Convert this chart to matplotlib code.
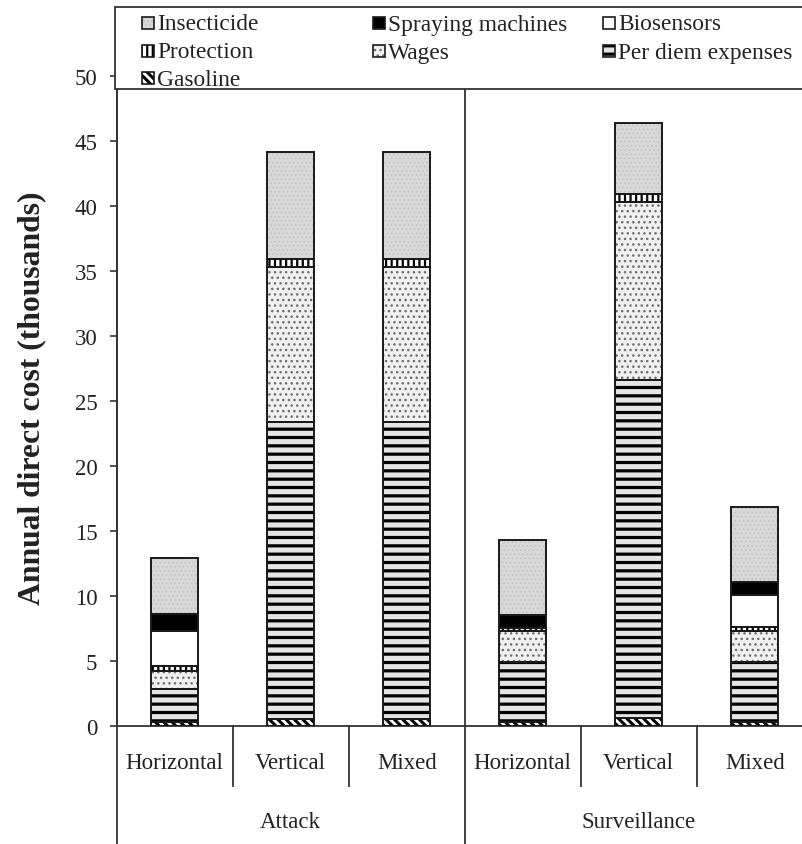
import matplotlib
matplotlib.use("Agg")
import matplotlib.pyplot as plt
from matplotlib.patches import Rectangle
import numpy as np

plt.rcParams["font.family"] = ["Liberation Serif", "DejaVu Serif"]

# --- data (thousands), one value per bar, bars ordered left to right ---
strategies = ["Horizontal", "Vertical", "Mixed", "Horizontal", "Vertical", "Mixed"]
groups = ["Attack", "Surveillance"]

gasoline = [0.28, 0.55, 0.55, 0.26, 0.60, 0.26]
per_diem = [2.54, 22.80, 22.80, 4.66, 26.00, 4.66]
wages = [1.36, 11.90, 11.90, 2.34, 13.66, 2.34]
protection = [0.39, 0.65, 0.65, 0.23, 0.64, 0.31]
biosensors = [2.74, 0.00, 0.00, 0.00, 0.00, 2.48]
spraying = [1.28, 0.00, 0.00, 1.03, 0.00, 1.03]
insecticide = [4.29, 8.20, 8.20, 5.76, 5.46, 5.77]

# stacking order bottom -> top, with fill style (face, hatch, hatch colour, hatch width)
components = [
    ("Gasoline", gasoline, "white", "\\\\\\\\", "black", 2.2),
    ("Per diem expenses", per_diem, "#e4e4e4", "--", "black", 2.3),
    ("Wages", wages, "#f0f0f0", "...", "#6e6e6e", 1.0),
    ("Protection", protection, "white", "|||", "black", 1.6),
    ("Biosensors", biosensors, "white", "", "white", 1.0),
    ("Spraying machines", spraying, "black", "", "black", 1.0),
    ("Insecticide", insecticide, "#d8d8d8", "....", "#c0c0c0", 0.6),
]
legend_order = ["Insecticide", "Spraying machines", "Biosensors",
                "Protection", "Wages", "Per diem expenses", "Gasoline"]

W, H = 802, 845
fig = plt.figure(figsize=(W / 100, H / 100), dpi=100)

# axes placement in pixels: y=0 at 726.7, y=50 at 76.7, category width 116 px
ax_left, ax_bottom, ax_top, cat_w = 116.7, 726.7, 76.7, 116.0
ax = fig.add_axes([ax_left / W, (H - ax_bottom) / H,
                   6 * cat_w / W, (ax_bottom - ax_top) / H])

x = np.arange(len(strategies)) + 0.5
bar_w = 0.405


def styled(patch, hatch_lw):
    if hasattr(patch, "set_hatch_linewidth"):
        patch.set_hatch_linewidth(hatch_lw)


bottom = np.zeros(len(strategies))
for name, vals, face, hatch, hcol, hlw in components:
    vals = np.asarray(vals)
    bars = ax.bar(x, vals, bar_w, bottom=bottom, color=face, hatch=hatch,
                  edgecolor=hcol, linewidth=0, zorder=2)
    for b in bars:
        styled(b, hlw)
    ax.bar(x, vals, bar_w, bottom=bottom, fill=False, edgecolor="#1a1a1a",
           linewidth=1.4, zorder=3)
    bottom += vals

ax.set_xlim(0, 6)
ax.set_ylim(0, 50)
ax.set_yticks(np.arange(0, 51, 5))
ax.set_xticks([])
for s in ["top", "right"]:
    ax.spines[s].set_visible(False)
for s in ["left", "bottom"]:
    ax.spines[s].set_color("#333333")
    ax.spines[s].set_linewidth(1.3)
ax.tick_params(axis="y", direction="out", length=5, width=1.2, color="#333333",
               labelsize=16.5, pad=9, labelcolor="#222222")

# category separators and labels below the axis
tr = ax.get_xaxis_transform()
for xs in [1, 2, 4, 5]:
    ax.plot([xs, xs], [0, -0.093], transform=tr, color="#333333", lw=1.3,
            clip_on=False)
for xs in [0, 3, 6]:
    ax.plot([xs, xs], [1, -0.25], transform=tr, color="#333333", lw=1.3,
            clip_on=False)
for xi, lab in zip(x, strategies):
    ax.text(xi, -0.056, lab, transform=tr, ha="center", va="center",
            fontsize=16.5, color="#222222")
for gi, g in enumerate(groups):
    ax.text(1.5 + 3 * gi, -0.147, g, transform=tr, ha="center", va="center",
            fontsize=16.5, color="#222222")

fig.text(32 / W, 1 - 398 / H, "Annual direct cost (thousands)", rotation=90,
         ha="center", va="center", fontsize=22.8, fontweight="bold",
         color="#222222")

# legend box drawn on top of the axes
fig.add_artist(Rectangle((115 / W, 1 - 90 / H), 700 / W, 82 / H,
                         transform=fig.transFigure, facecolor="white",
                         edgecolor="#333333", linewidth=1.3, zorder=5))
style = {c[0]: c for c in components}
col_x = [142, 373, 603]
row_y = [24, 52, 79]
box = 12
for i, name in enumerate(legend_order):
    cx, cy = col_x[i % 3], row_y[i // 3]
    _, _, face, hatch, hcol, hlw = style[name]
    h = Rectangle((cx / W, 1 - (cy + box / 2) / H), box / W, box / H,
                  transform=fig.transFigure, facecolor=face, hatch=hatch,
                  edgecolor=hcol, linewidth=0, zorder=6)
    styled(h, hlw)
    fig.add_artist(h)
    fig.add_artist(Rectangle((cx / W, 1 - (cy + box / 2) / H), box / W, box / H,
                             transform=fig.transFigure, fill=False,
                             edgecolor="#1a1a1a", linewidth=1.2, zorder=7))
    fig.text((cx + box + 3) / W, 1 - (cy + 1) / H, name, ha="left", va="center",
             fontsize=16.8, color="#222222", zorder=7)

fig.savefig("out.png", dpi=100)
